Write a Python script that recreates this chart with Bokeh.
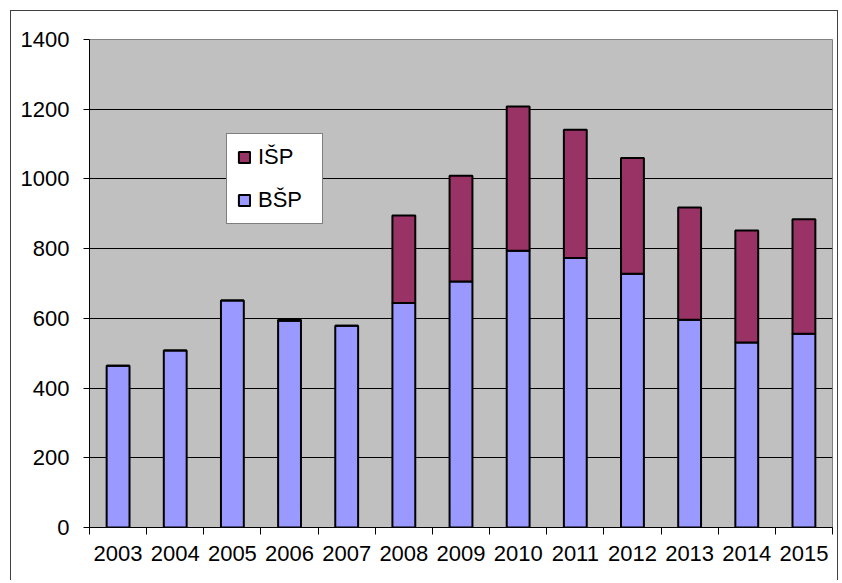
from bokeh.plotting import figure
from bokeh.models import FixedTicker, Range1d, Legend, LegendItem, ColumnDataSource
from bokeh.embed import file_html
from bokeh.resources import INLINE

years = ["2003", "2004", "2005", "2006", "2007", "2008", "2009",
         "2010", "2011", "2012", "2013", "2014", "2015"]
bsp = [464, 508, 651, 593, 579, 644, 706, 794, 773, 728, 596, 531, 556]
isp = [0, 0, 0, 3, 0, 251, 303, 414, 368, 332, 322, 321, 328]
y_ticks = [0, 200, 400, 600, 800, 1000, 1200, 1400]

xs = [i + 0.5 for i in range(len(years))]
tops = [b + s for b, s in zip(bsp, isp)]
src = ColumnDataSource(dict(x=xs, bsp=bsp, top=tops, zero=[0] * len(years)))

FONT = "Liberation Sans"

p = figure(width=828, height=570, output_backend="svg", toolbar_location=None,
           x_range=Range1d(0, len(years)), y_range=Range1d(0, 1400),
           min_border_left=78, min_border_top=28, min_border_right=7,
           min_border_bottom=54, background_fill_color="#C0C0C0",
           border_fill_color="white", outline_line_color="#808080",
           margin=(10, 0, 0, 10),
           styles={"border-top": "1px solid #404040",
                   "border-left": "1px solid #404040",
                   "border-right": "1px solid #404040",
                   "box-sizing": "border-box"})

r_bsp = p.vbar(x="x", bottom="zero", top="bsp", width=0.4, source=src,
               fill_color="#9999FF", line_color="black", line_width=2)
r_isp = p.vbar(x="x", bottom="bsp", top="top", width=0.4, source=src,
               fill_color="#993366", line_color="black", line_width=2)

# x axis: labels at centers, ticks between categories
xt = FixedTicker(ticks=xs, minor_ticks=list(range(len(years) + 1)))
p.xaxis.ticker = xt
p.xaxis.major_label_overrides = {x: y for x, y in zip(xs, years)}
p.xaxis.major_tick_line_color = None
p.xaxis.major_tick_out = 0
p.xaxis.major_tick_in = 0
p.xaxis.minor_tick_line_color = "black"
p.xaxis.minor_tick_out = 7
p.xaxis.minor_tick_in = 0
p.xaxis.major_label_standoff = 11
p.xaxis.axis_line_color = "black"

p.yaxis.ticker = FixedTicker(ticks=y_ticks, minor_ticks=[])
p.yaxis.major_tick_out = 6
p.yaxis.major_tick_in = 0
p.yaxis.major_tick_line_color = "black"
p.yaxis.major_label_standoff = 14
p.yaxis.axis_line_color = "black"

for ax in (p.xaxis, p.yaxis):
    ax.major_label_text_font = FONT
    ax.major_label_text_font_size = "22px"
    ax.major_label_text_color = "black"

p.xgrid.grid_line_color = None
p.ygrid.ticker = FixedTicker(ticks=y_ticks)
p.ygrid.grid_line_color = "black"
p.ygrid.grid_line_width = 1

legend = Legend(items=[LegendItem(label="IŠP", renderers=[r_isp]),
                       LegendItem(label="BŠP", renderers=[r_bsp])],
                location=(137, 303), background_fill_color="white",
                background_fill_alpha=1.0, border_line_color="black",
                border_line_width=1, label_text_font=FONT,
                label_text_font_size="22px", label_text_color="black",
                glyph_width=14, glyph_height=14,
                label_height=25, label_width=54, spacing=17, padding=10,
                margin=0, label_standoff=7)
p.add_layout(legend, "center")

open("out.html", "w").write(file_html(p, INLINE))
